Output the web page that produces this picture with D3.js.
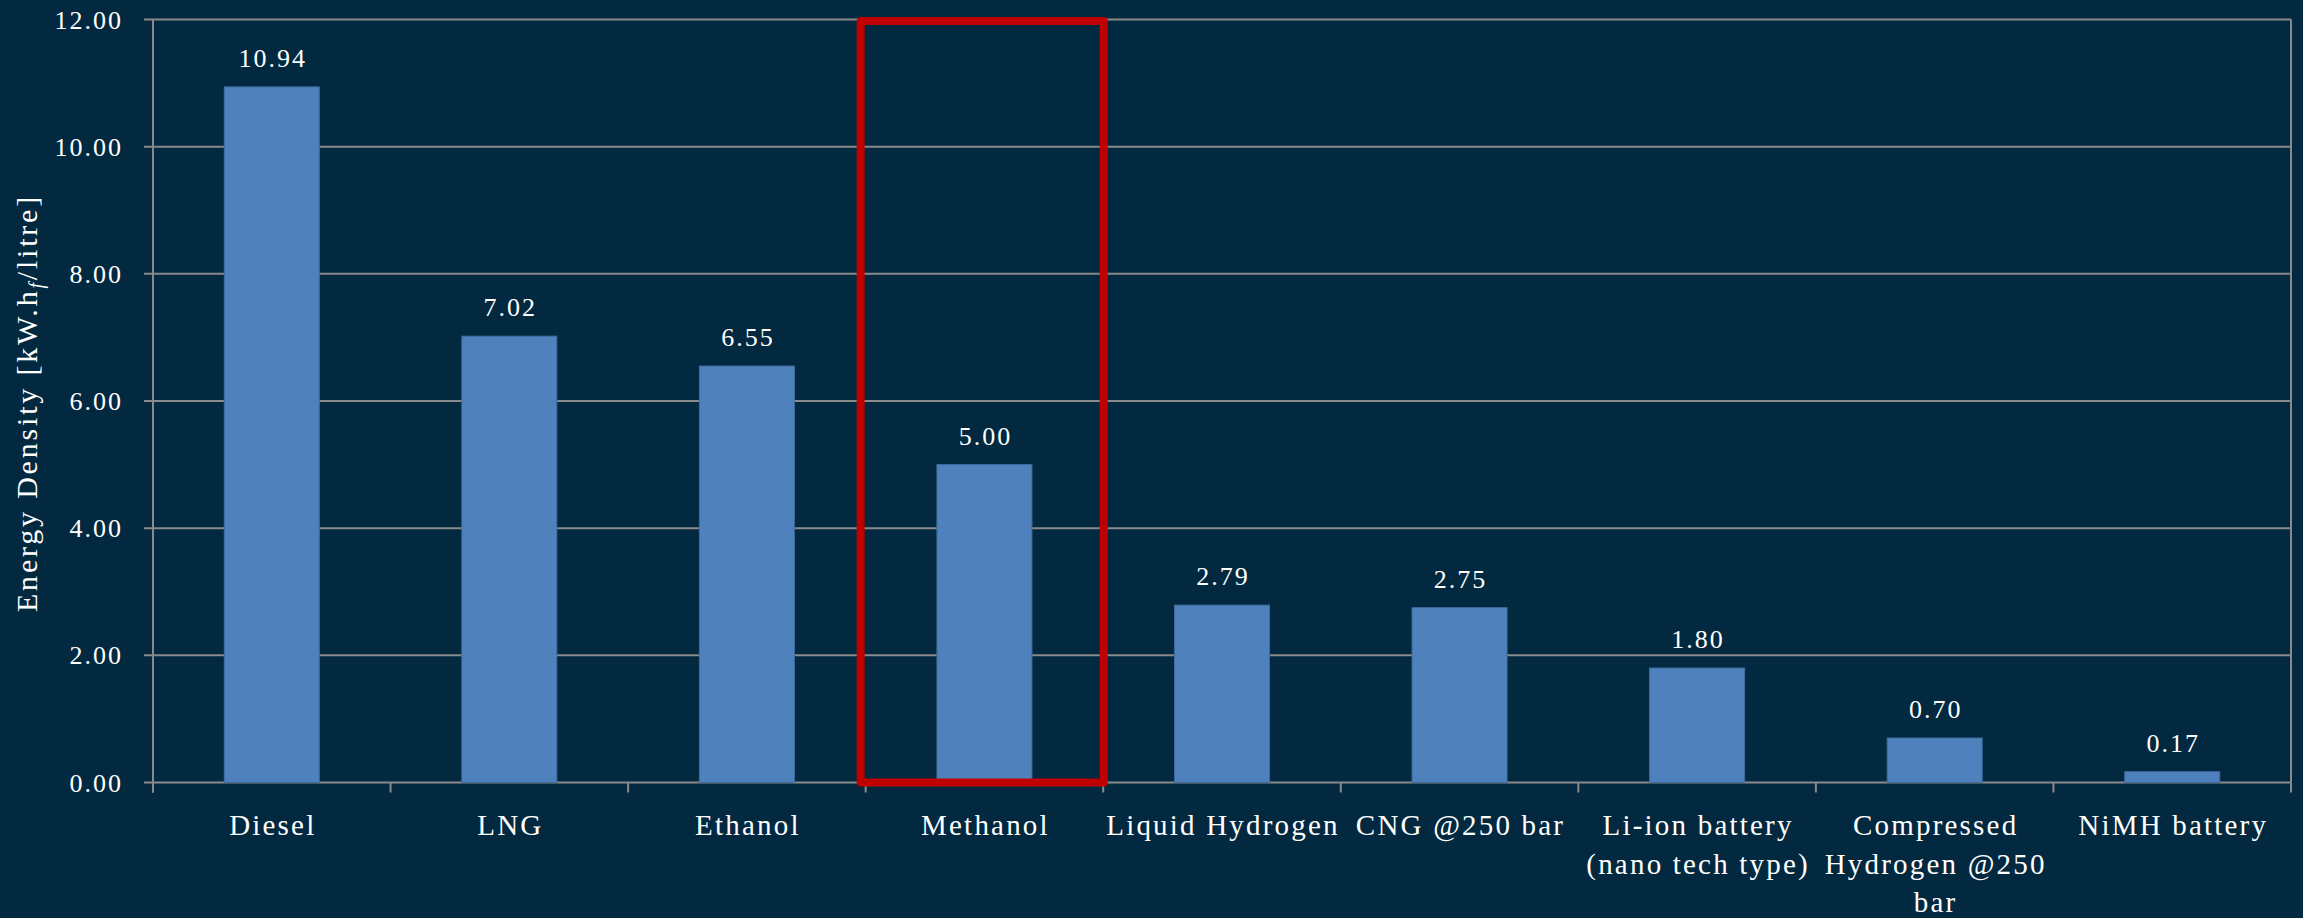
<!DOCTYPE html>
<html>
<head>
<meta charset="utf-8">
<script src="https://cdn.jsdelivr.net/npm/d3@7"></script>
<style>
  html, body { margin: 0; padding: 0; background: #02293f; }
  svg { display: block; }
  text { font-family: "Liberation Serif", "Times New Roman", serif; fill: #ffffff; }
</style>
</head>
<body>
<svg id="chart" width="2303" height="918"></svg>
<script>
// Energy density by fuel / storage type
const categories = [
  "Diesel",
  "LNG",
  "Ethanol",
  "Methanol",
  "Liquid Hydrogen",
  "CNG @250 bar",
  "Li-ion battery\n(nano tech type)",
  "Compressed\nHydrogen @250\nbar",
  "NiMH battery"
];
const values = [10.94, 7.02, 6.55, 5.00, 2.79, 2.75, 1.80, 0.70, 0.17];
const yTicks = [0, 2, 4, 6, 8, 10, 12];
const highlighted = "Methanol";

const W = 2303, H = 918;
const margin = { left: 153, right: 12, top: 19.5, bottom: 135.5 };
const svg = d3.select("#chart");

svg.append("rect").attr("width", W).attr("height", H).attr("fill", "#02293f");

const x = d3.scaleBand()
  .domain(categories)
  .range([margin.left, W - margin.right])
  .paddingInner(0.6)
  .paddingOuter(0.3);

const y = d3.scaleLinear()
  .domain([0, 12])
  .range([H - margin.bottom, margin.top]);

const step = x.step();
const plotLeft = margin.left, plotRight = W - margin.right;
const gridColor = "#8a8a8a";

// horizontal gridlines
svg.append("g")
  .selectAll("line")
  .data(yTicks)
  .join("line")
  .attr("x1", plotLeft - 9)
  .attr("x2", plotRight)
  .attr("y1", d => y(d))
  .attr("y2", d => y(d))
  .attr("stroke", gridColor)
  .attr("stroke-width", 2);

// vertical axis line and right border
svg.append("line")
  .attr("x1", plotLeft).attr("x2", plotLeft)
  .attr("y1", y(12)).attr("y2", y(0) + 10)
  .attr("stroke", gridColor).attr("stroke-width", 2);
svg.append("line")
  .attr("x1", plotRight).attr("x2", plotRight)
  .attr("y1", y(12)).attr("y2", y(0))
  .attr("stroke", gridColor).attr("stroke-width", 2);

// category boundary ticks under the baseline
const boundaries = d3.range(categories.length + 1).map(i => plotLeft + i * step);
svg.append("g")
  .selectAll("line")
  .data(boundaries)
  .join("line")
  .attr("x1", d => d).attr("x2", d => d)
  .attr("y1", y(0)).attr("y2", y(0) + 10)
  .attr("stroke", gridColor).attr("stroke-width", 2);

// y tick labels
const fmt = d3.format(".2f");
svg.append("g")
  .selectAll("text")
  .data(yTicks)
  .join("text")
  .attr("x", plotLeft - 30)
  .attr("y", d => y(d))
  .attr("dy", "0.35em")
  .attr("text-anchor", "end")
  .attr("font-size", 26)
  .attr("letter-spacing", 2)
  .text(d => fmt(d));

// bars
const data = categories.map((c, i) => ({ c, v: values[i] }));
svg.append("g")
  .selectAll("rect")
  .data(data)
  .join("rect")
  .attr("x", d => x(d.c))
  .attr("width", x.bandwidth())
  .attr("y", d => y(d.v))
  .attr("height", d => y(0) - y(d.v))
  .attr("fill", "#4f81bd")
  .attr("stroke", "#3f6c9f")
  .attr("stroke-width", 1);

// value labels
svg.append("g")
  .selectAll("text")
  .data(data)
  .join("text")
  .attr("x", d => x(d.c) + x.bandwidth() / 2 + 1)
  .attr("y", d => y(d.v) - 20)
  .attr("text-anchor", "middle")
  .attr("font-size", 26)
  .attr("letter-spacing", 2)
  .text(d => fmt(d.v));

// category labels (multi-line)
const catG = svg.append("g")
  .selectAll("text")
  .data(categories)
  .join("text")
  .attr("text-anchor", "middle")
  .attr("font-size", 29)
  .attr("letter-spacing", 2.2);
catG.each(function (c) {
  const lines = c.split("\n");
  const t = d3.select(this);
  lines.forEach((line, i) => {
    t.append("tspan")
      .attr("x", x(c) + x.bandwidth() / 2 + 1)
      .attr("y", y(0) + 52.5 + i * 38.5)
      .text(line);
  });
});

// y axis title with subscript
const title = svg.append("text")
  .attr("transform", `translate(37, 403) rotate(-90)`)
  .attr("text-anchor", "middle")
  .attr("font-size", 30)
  .attr("letter-spacing", 2.8);
title.append("tspan").text("Energy Density [kW.h");
title.append("tspan")
  .attr("font-size", 20)
  .attr("font-style", "italic")
  .attr("dy", 6)
  .text("f");
title.append("tspan").attr("dy", -6).text("/litre]");

// highlight frame around the selected category
const hx = plotLeft + categories.indexOf(highlighted) * step;
svg.append("rect")
  .attr("x", hx - 5)
  .attr("y", y(12) + 1.5)
  .attr("width", step + 5.5)
  .attr("height", y(0) - y(12) - 1.5)
  .attr("fill", "none")
  .attr("stroke", "#c00000")
  .attr("stroke-width", 8)
  .attr("stroke-linejoin", "round");
</script>
</body>
</html>
